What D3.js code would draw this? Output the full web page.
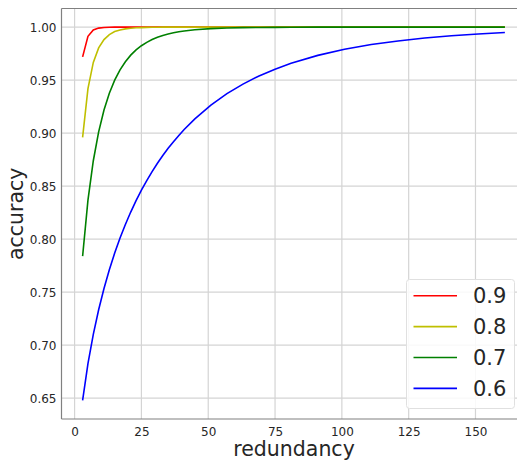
<!doctype html>
<html lang="en">
<head>
<meta charset="utf-8">
<title>accuracy vs redundancy</title>
<script src="https://cdn.jsdelivr.net/npm/d3@7"></script>
<style>
  body { margin: 0; background: #fff; }
  text { font-family: "DejaVu Sans", sans-serif; fill: #262626; }
</style>
</head>
<body>
<svg id="chart" width="517" height="464"></svg>
<script>
// redundancy values (odd votes)
var redundancy = [3, 5, 7, 9, 11, 13, 15, 17, 19, 21, 23, 25, 27, 29, 31, 33, 35, 37, 39, 41,
  45, 51, 57, 63, 69, 75, 81, 91, 101, 111, 121, 131, 141, 151, 161];

var acc09 = [0.972, 0.9914, 0.9973, 0.9991, 0.9997, 0.9999, 1, 1, 1, 1, 1, 1, 1, 1, 1, 1, 1, 1, 1, 1,
  1, 1, 1, 1, 1, 1, 1, 1, 1, 1, 1, 1, 1, 1, 1];
var acc08 = [0.896, 0.9421, 0.9667, 0.9804, 0.9883, 0.9930, 0.9958, 0.9974, 0.9984, 0.9990, 0.9994,
  0.9996, 0.9998, 0.9999, 0.9999, 1, 1, 1, 1, 1,
  1, 1, 1, 1, 1, 1, 1, 1, 1, 1, 1, 1, 1, 1, 1];
var acc07 = [0.784, 0.8369, 0.8740, 0.9012, 0.9218, 0.9376, 0.9500, 0.9597, 0.9674, 0.9736, 0.9786,
  0.9825, 0.9857, 0.9883, 0.9905, 0.9922, 0.9936, 0.9947, 0.9957, 0.9964,
  0.9976, 0.9986, 0.9992, 0.9996, 0.9997, 0.9998, 0.9999, 1, 1, 1, 1, 1, 1, 1, 1];
var acc06 = [0.648, 0.6826, 0.7102, 0.7334, 0.7535, 0.7712, 0.7869, 0.8011, 0.8139, 0.8256, 0.8364,
  0.8462, 0.8553, 0.8638, 0.8716, 0.8789, 0.8857, 0.8920, 0.8979, 0.9035,
  0.9135, 0.9265, 0.9373, 0.9463, 0.9540, 0.9604, 0.9659, 0.9734, 0.9791, 0.9836,
  0.9870, 0.9897, 0.9919, 0.9936, 0.9949];

var seriesNames = ["0.9", "0.8", "0.7", "0.6"];
var seriesColors = ["#ff0000", "#bfbf00", "#008000", "#0000ff"];
var xTicks = [0, 25, 50, 75, 100, 125, 150];
var yTicks = [0.65, 0.70, 0.75, 0.80, 0.85, 0.90, 0.95, 1.00];

var series = [acc09, acc08, acc07, acc06].map(function(vals, i) {
  return { name: seriesNames[i], color: seriesColors[i],
    points: vals.map(function(v, j) { return [redundancy[j], v]; }) };
});

var svg = d3.select("#chart");
var mLeft = 61.5, mTop = 8.5, mBottom = 419, mRight = 526;

var x = d3.scaleLinear().domain([-4.9, 168.9]).range([mLeft, mRight]);
var y = d3.scaleLinear().domain([0.6304, 1.0176]).range([mBottom, mTop]);

svg.append("defs").append("clipPath").attr("id", "plotclip")
  .append("rect").attr("x", mLeft).attr("y", mTop).attr("width", mRight - mLeft).attr("height", mBottom - mTop);

// grid
var grid = svg.append("g");
grid.selectAll("line.gx").data(xTicks).enter().append("line")
  .attr("x1", function(d) { return x(d); }).attr("x2", function(d) { return x(d); })
  .attr("y1", mTop).attr("y2", mBottom)
  .attr("stroke", "#d4d4d4").attr("stroke-width", 1.2);
grid.selectAll("line.gy").data(yTicks).enter().append("line")
  .attr("y1", function(d) { return y(d); }).attr("y2", function(d) { return y(d); })
  .attr("x1", mLeft).attr("x2", mRight)
  .attr("stroke", "#d4d4d4").attr("stroke-width", 1.2);

// axes (labels only, no tick marks)
var xAxis = d3.axisBottom(x).tickValues(xTicks).tickSize(0).tickPadding(8)
  .tickFormat(d3.format("d"));
var yAxis = d3.axisLeft(y).tickValues(yTicks).tickSize(0).tickPadding(5)
  .tickFormat(d3.format(".2f"));

var gx = svg.append("g").attr("transform", "translate(0," + mBottom + ")").call(xAxis);
var gy = svg.append("g").attr("transform", "translate(" + mLeft + ",0)").call(yAxis);
[gx, gy].forEach(function(g) {
  g.select(".domain").remove();
  g.selectAll("text").style("font-family", "DejaVu Sans").style("font-size", "12px").attr("fill", "#262626");
});

// spines
svg.append("line").attr("x1", mLeft).attr("x2", mLeft).attr("y1", mTop).attr("y2", mBottom)
  .attr("stroke", "#808080").attr("stroke-width", 1.2);
svg.append("line").attr("x1", mLeft).attr("x2", mRight).attr("y1", mBottom).attr("y2", mBottom)
  .attr("stroke", "#808080").attr("stroke-width", 1.2);
svg.append("line").attr("x1", mLeft).attr("x2", mRight).attr("y1", mTop).attr("y2", mTop)
  .attr("stroke", "#808080").attr("stroke-width", 1.2);

// lines
var line = d3.line().x(function(d) { return x(d[0]); }).y(function(d) { return y(d[1]); });
svg.append("g").attr("clip-path", "url(#plotclip)")
  .selectAll("path").data(series).enter().append("path")
  .attr("d", function(d) { return line(d.points); })
  .attr("fill", "none").attr("stroke", function(d) { return d.color; })
  .attr("stroke-width", 1.6);

// axis titles
svg.append("text").attr("x", 294).attr("y", 456)
  .attr("text-anchor", "middle").style("font-size", "20.5px").text("redundancy");
svg.append("text").attr("transform", "translate(23," + ((mTop + mBottom) / 2) + ") rotate(-90)")
  .attr("text-anchor", "middle").style("font-size", "20.5px").text("accuracy");

// legend
var lg = svg.append("g");
lg.append("rect").attr("x", 406.5).attr("y", 279.5).attr("width", 108).attr("height", 129)
  .attr("rx", 3).attr("fill", "#fff").attr("fill-opacity", 0.85)
  .attr("stroke", "#e0e0e0").attr("stroke-width", 1);
var rows = lg.selectAll("g.row").data(series).enter().append("g")
  .attr("transform", function(d, i) { return "translate(0," + (295.7 + i * 30.9) + ")"; });
rows.append("line").attr("x1", 413.5).attr("x2", 457).attr("y1", 0).attr("y2", 0)
  .attr("stroke", function(d) { return d.color; }).attr("stroke-width", 1.6);
rows.append("text").attr("x", 473).attr("y", 7.5).style("font-size", "21px")
  .attr("fill", "#000").text(function(d) { return d.name; });
</script>
</body>
</html>
